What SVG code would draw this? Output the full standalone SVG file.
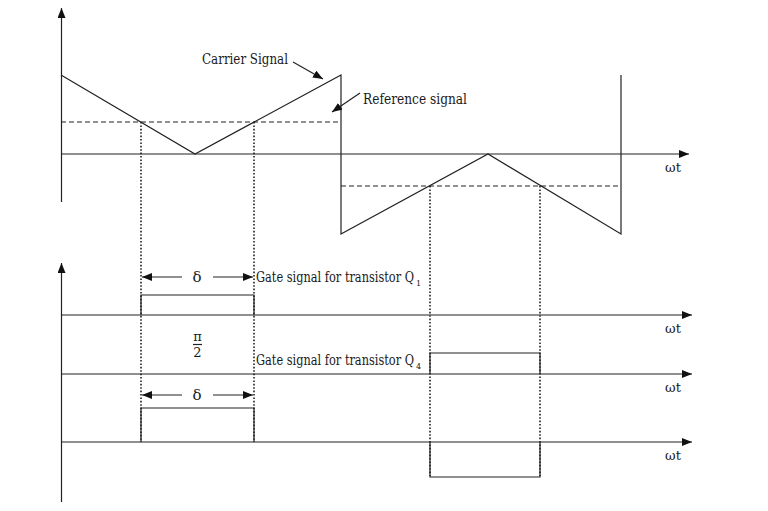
<svg xmlns="http://www.w3.org/2000/svg" width="768" height="511" viewBox="0 0 768 511">
<style>
.ln{stroke:#222;stroke-width:1.2;fill:none}
.dash{stroke:#222;stroke-width:1;fill:none;stroke-dasharray:5,3}
.dot{stroke:#222;stroke-width:1.6;fill:none;stroke-dasharray:1.6,1.8}
.t{font-family:"DejaVu Serif","Liberation Serif",serif;font-size:14px;fill:#1a1a1a}
.s{font-family:"DejaVu Serif","Liberation Serif",serif;font-size:8px;fill:#1a1a1a}
.g{font-family:"DejaVu Serif","Liberation Serif",serif;font-size:15px;fill:#1a1a1a;text-anchor:middle}
.f{font-family:"DejaVu Serif","Liberation Serif",serif;font-size:13px;fill:#1a1a1a;text-anchor:middle}
.w{font-family:"DejaVu Serif","Liberation Serif",serif;font-size:13px;fill:#1a1a1a;text-anchor:middle}
</style>
<defs>
<marker id="arr" markerUnits="userSpaceOnUse" markerWidth="10" markerHeight="8" refX="10" refY="4" orient="auto">
<path d="M0,0 L10,4 L0,8 z" fill="#111"/>
</marker>
</defs>
<rect width="768" height="511" fill="#fff"/>
<g id="axes">
<line class="ln" x1="61.5" y1="202" x2="61.5" y2="8" marker-end="url(#arr)"/>
<line class="ln" x1="61" y1="154" x2="689" y2="154" marker-end="url(#arr)"/>
<text class="w" x="673" y="172">ωt</text>
<line class="ln" x1="61.5" y1="502" x2="61.5" y2="263" marker-end="url(#arr)"/>
<line class="ln" x1="61" y1="315" x2="692" y2="315" marker-end="url(#arr)"/>
<line class="ln" x1="61" y1="374" x2="692" y2="374" marker-end="url(#arr)"/>
<line class="ln" x1="61" y1="442" x2="692" y2="442" marker-end="url(#arr)"/>
<text class="w" x="673" y="333">ωt</text>
<text class="w" x="673" y="392">ωt</text>
<text class="w" x="673" y="460">ωt</text>
</g>
<g id="carrier">
<polyline class="ln" points="61,75 195,154 341,75 341,234 488,154 621,234 621,75"/>
</g>
<g id="reference">
<line class="dash" x1="61" y1="122" x2="341" y2="122"/>
<line class="dash" x1="341" y1="186" x2="621" y2="186"/>
</g>
<g id="projections">
<line class="dot" x1="141" y1="122" x2="141" y2="442"/>
<line class="dot" x1="254" y1="122" x2="254" y2="442"/>
<line class="dot" x1="430" y1="186" x2="430" y2="476"/>
<line class="dot" x1="540" y1="186" x2="540" y2="476"/>
</g>
<g id="pulses">
<polyline class="ln" points="141,315 141,295 254,295 254,315"/>
<polyline class="ln" points="430,374 430,353 540,353 540,374"/>
<polyline class="ln" points="141,442 141,408 254,408 254,442"/>
<polyline class="ln" points="430,442 430,477 540,477 540,442"/>
</g>
<g id="labels">
<text class="t" x="202" y="64" textLength="86" lengthAdjust="spacingAndGlyphs">Carrier Signal</text>
<text class="t" x="363" y="104" textLength="104" lengthAdjust="spacingAndGlyphs">Reference signal</text>
<text class="t" x="256" y="282" textLength="158" lengthAdjust="spacingAndGlyphs">Gate signal for transistor Q</text>
<text class="s" x="416" y="286">1</text>
<text class="t" x="256" y="365" textLength="158" lengthAdjust="spacingAndGlyphs">Gate signal for transistor Q</text>
<text class="s" x="416" y="369">4</text>
<text class="g" x="197" y="282">δ</text>
<text class="g" x="197" y="400">δ</text>
<text class="f" x="197.5" y="341">π</text>
<line class="ln" x1="193" y1="344.5" x2="202" y2="344.5" stroke-width="0.8"/>
<text class="f" x="197.5" y="357">2</text>
</g>
<g id="connectors">
<line class="ln" x1="293" y1="62" x2="323" y2="79" marker-end="url(#arr)"/>
<line class="ln" x1="360" y1="93" x2="332" y2="112" marker-end="url(#arr)"/>
<line class="ln" x1="182" y1="277" x2="142" y2="277" marker-end="url(#arr)"/>
<line class="ln" x1="213" y1="277" x2="253" y2="277" marker-end="url(#arr)"/>
<line class="ln" x1="182" y1="395" x2="142" y2="395" marker-end="url(#arr)"/>
<line class="ln" x1="213" y1="395" x2="253" y2="395" marker-end="url(#arr)"/>
</g>
</svg>
